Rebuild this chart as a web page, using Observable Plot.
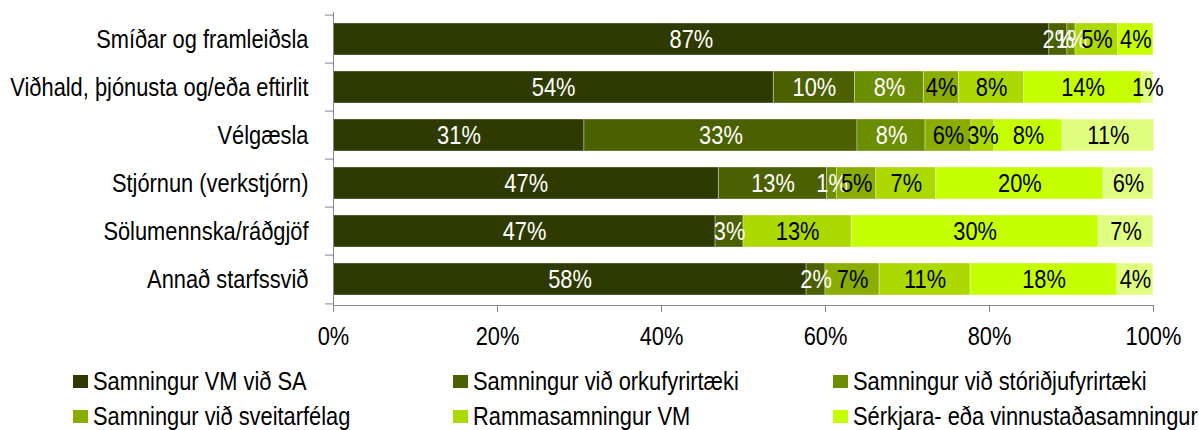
<!DOCTYPE html>
<html>
<head>
<meta charset="utf-8">
<script src="https://cdn.jsdelivr.net/npm/d3@7"></script>
<script src="https://cdn.jsdelivr.net/npm/@observablehq/plot@0.6"></script>
<style>
  body { margin: 0; background: #fff; }
  #chart { width: 1199px; font-family: "Liberation Sans", Arial, sans-serif; }
  .legend { position: relative; height: 70px; margin-top: 10px; font-size: 26px; color: #000; }
  .item { position: absolute; display: flex; align-items: center; height: 32px; white-space: nowrap; }
  .sw { width: 15px; height: 13px; margin-right: 5px; flex: none; }
  .lt { display: inline-block; transform: scaleX(0.84); transform-origin: 0 50%; }
</style>
</head>
<body>
<div id="chart"></div>
<script>
const categories = ["Smíðar og framleiðsla", "Viðhald, þjónusta og/eða eftirlit", "Vélgæsla", "Stjórnun (verkstjórn)", "Sölumennska/ráðgjöf", "Annað starfssvið"];
const series = ["Samningur VM við SA", "Samningur við orkufyrirtæki", "Samningur við stóriðjufyrirtæki", "Samningur við sveitarfélag", "Rammasamningur VM", "Sérkjara- eða vinnustaðasamningur", "Annað"];
const legendSeries = series.slice(0, 6);
const colors = ["#2f3a00", "#4b6000", "#6b8d00", "#89ad00", "#abd900", "#c5ff00", "#e0ff80"];
const vmSA        = [87.3, 53.7, 30.6, 47.0, 46.6, 57.7];
const orku        = [2.2, 9.9, 33.3, 13.2, 3.4, 2.3];
const storidju    = [1.0, 8.4, 8.3, 1.2, 0, 0];
const sveitarfelag= [0, 4.3, 5.6, 4.8, 0, 6.6];
const ramma       = [5.2, 7.9, 2.8, 7.3, 13.2, 11.1];
const serkjara    = [4.3, 14.4, 8.3, 20.4, 30.1, 17.9];
const annad       = [0, 1.4, 11.2, 6.1, 6.7, 4.4];
const xTicks = [0, 20, 40, 60, 80, 100];

const seriesValues = [vmSA, orku, storidju, sveitarfelag, ramma, serkjara, annad];
const data = [];
series.forEach((s, si) => categories.forEach((c, ci) => {
  const v = seriesValues[si][ci];
  if (v > 0) data.push({category: c, series: s, si, value: v});
}));

const height = 355, marginTop = 12, marginBottom = 50;
const step = (height - marginTop - marginBottom) / categories.length;
const axisColor = "#868686";
const label = d => Math.round(d.value) + "%";

const chart = Plot.plot({
  width: 1199,
  height,
  marginTop,
  marginBottom,
  marginLeft: 333,
  marginRight: 46,
  style: {fontFamily: '"Liberation Sans", Arial, sans-serif', fontSize: "26px", color: "#000", background: "#fff"},
  x: {domain: [0, 100], label: null},
  y: {domain: categories, paddingInner: 0.34, paddingOuter: 0.17, label: null},
  color: {domain: series, range: colors},
  marks: [
    Plot.barX(data, Plot.stackX({x: "value", y: "category", fill: "series", order: series, stroke: "white", strokeOpacity: 0.35, strokeWidth: 1})),
    Plot.text(data, Plot.stackX({x: "value", y: "category", z: "series", order: series, text: d => d.si < 3 ? label(d) : null, fill: "white", fontSize: 26})),
    Plot.text(data, Plot.stackX({x: "value", y: "category", z: "series", order: series, text: d => d.si >= 3 ? label(d) : null, fill: "black", fontSize: 26})),
    Plot.frame({anchor: "left", stroke: axisColor}),
    Plot.frame({anchor: "bottom", stroke: axisColor}),
    Plot.axisX({ticks: xTicks, tickFormat: d => d + "%", tickSize: 7, tickPadding: 14, stroke: axisColor, fill: "#000", fontSize: 26, label: null}),
    Plot.axisY({tickSize: 0, tickPadding: 25, fill: "#000", fontSize: 26, label: null}),
    Plot.axisY({text: null, tickSize: 8, dy: -step / 2, stroke: axisColor, label: null}),
    Plot.axisY({ticks: categories.slice(-1), text: null, tickSize: 8, dy: step / 2, stroke: axisColor, label: null})
  ]
});

// Condense glyphs horizontally (Arial Narrow look) around each text's anchor point
const isNum = s => s != null && /^\s*-?[\d.]+(e-?\d+)?\s*$/.test(s);
chart.querySelectorAll("text").forEach(t => {
  let x = 0, y = 0;
  const ax = t.getAttribute("x"), ay = t.getAttribute("y");
  if (isNum(ax)) { x = +ax; t.removeAttribute("x"); }
  if (isNum(ay)) { y = +ay; t.removeAttribute("y"); }
  const tr = t.getAttribute("transform") || "";
  t.setAttribute("transform", `${tr} translate(${x},${y}) scale(0.84,1)`);
});

const root = document.getElementById("chart");
root.appendChild(chart);

const legend = document.createElement("div");
legend.className = "legend";
legendSeries.forEach((s, i) => {
  const item = document.createElement("div");
  item.className = "item";
  item.style.left = (73 + (i % 3) * 380) + "px";
  item.style.top = (Math.floor(i / 3) * 35) + "px";
  const sw = document.createElement("span");
  sw.className = "sw";
  sw.style.background = colors[i];
  const t = document.createElement("span");
  t.className = "lt";
  t.textContent = s;
  item.appendChild(sw);
  item.appendChild(t);
  legend.appendChild(item);
});
root.appendChild(legend);
</script>
</body>
</html>
